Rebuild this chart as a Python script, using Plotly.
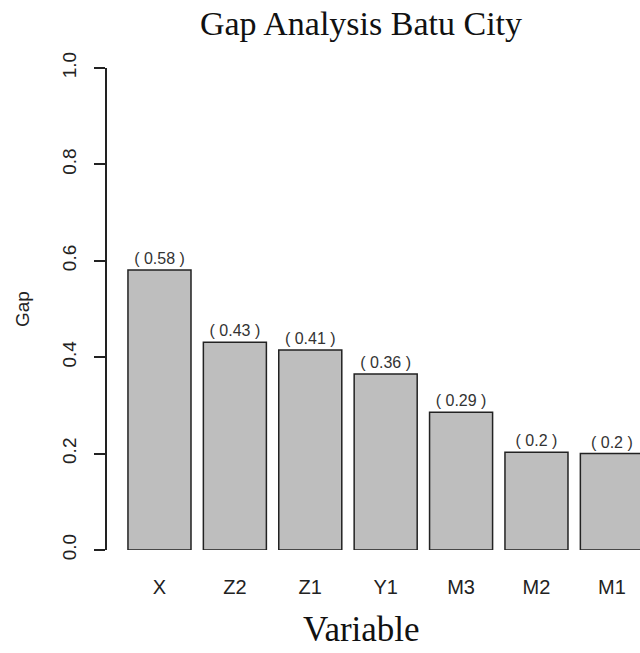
import plotly.graph_objects as go

categories = ["X", "Z2", "Z1", "Y1", "M3", "M2", "M1"]
gap_values = [0.581, 0.431, 0.415, 0.365, 0.286, 0.203, 0.200]
gap_labels = ["( 0.58 )", "( 0.43 )", "( 0.41 )", "( 0.36 )", "( 0.29 )", "( 0.2 )", "( 0.2 )"]
y_ticks = [0.0, 0.2, 0.4, 0.6, 0.8, 1.0]

W, H = 640, 653
L, R, T, B = 107, 0, 68, 103

fig = go.Figure(
    go.Bar(
        x=categories,
        y=gap_values,
        text=gap_labels,
        textposition="outside",
        textfont=dict(family="Liberation Sans", size=16, color="#333333"),
        cliponaxis=False,
        marker=dict(color="#bebebe", line=dict(color="#222222", width=1.5)),
    )
)

fig.update_layout(
    width=W,
    height=H,
    margin=dict(l=L, r=R, t=T, b=B, pad=0),
    paper_bgcolor="white",
    plot_bgcolor="white",
    bargap=0.164,
    showlegend=False,
    font=dict(family="Liberation Sans", color="#222222"),
    title=dict(
        text="Gap Analysis Batu City",
        font=dict(family="Liberation Serif", size=34, color="#111111"),
        x=361 / W,
        xref="container",
        xanchor="center",
        y=1 - 23 / H,
        yref="container",
        yanchor="middle",
    ),
    xaxis=dict(
        type="category",
        range=[-0.696, 6.373],
        showline=False,
        showgrid=False,
        zeroline=False,
        ticks="",
        tickfont=dict(family="Liberation Sans", size=20, color="#222222"),
        ticklabelstandoff=23,
    ),
    yaxis=dict(
        range=[0, 1],
        tickvals=y_ticks,
        tickformat=".1f",
        showline=True,
        linecolor="#222222",
        linewidth=1.5,
        ticks="outside",
        ticklen=11,
        tickwidth=1.5,
        tickcolor="#222222",
        showgrid=False,
        zeroline=False,
        tickangle=-90,
        tickfont=dict(family="Liberation Sans", size=19, color="#222222"),
        ticklabelstandoff=11,
    ),
    annotations=[
        dict(
            text="Variable",
            xref="paper",
            yref="paper",
            x=(361 - L) / (W - L - R),
            y=-(H - 2 - (H - B)) / (H - T - B),
            xanchor="center",
            yanchor="bottom",
            showarrow=False,
            font=dict(family="Liberation Serif", size=35, color="#111111"),
        ),
        dict(
            text="Gap",
            xref="paper",
            yref="paper",
            x=-(L - 22) / (W - L - R),
            y=0.5,
            xanchor="center",
            yanchor="middle",
            textangle=-90,
            showarrow=False,
            font=dict(family="Liberation Sans", size=19, color="#222222"),
        ),
    ],
)

fig.write_html(
    "out.html",
    config={"displayModeBar": False},
    post_script="document.body.style.margin='0';document.body.style.overflow='hidden';",
)
